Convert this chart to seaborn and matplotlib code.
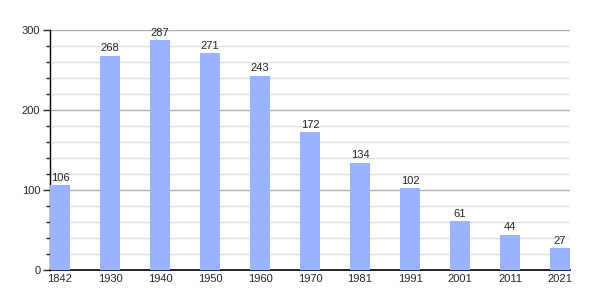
import matplotlib
matplotlib.use("Agg")
import matplotlib.pyplot as plt
import seaborn as sns
import pandas as pd
from matplotlib.ticker import MultipleLocator

years = ["1842", "1930", "1940", "1950", "1960", "1970", "1981", "1991", "2001", "2011", "2021"]
population = [106, 268, 287, 271, 243, 172, 134, 102, 61, 44, 27]

df = pd.DataFrame({"year": years, "pop": population})

sns.set_style("white")
plt.rcParams["font.family"] = ["Liberation Sans", "DejaVu Sans"]

fig = plt.figure(figsize=(6, 3), dpi=100)
ax = fig.add_axes([50/600, 30/300, 520/600, 240/300])

sns.barplot(data=df, x="year", y="pop", color="#99b3ff", saturation=1, width=0.4,
            linewidth=0, edgecolor="none", ax=ax, zorder=3)

ax.set_xlim(-0.2, 10.2)
ax.set_ylim(0, 300)
ax.yaxis.set_major_locator(MultipleLocator(100))
ax.yaxis.set_minor_locator(MultipleLocator(20))
ax.grid(which="major", axis="y", color="#b0b0b0", linewidth=1, zorder=0)
ax.grid(which="minor", axis="y", color="#e0e0e0", linewidth=1, zorder=0)
ax.set_axisbelow(True)

for s in ["top", "right"]:
    ax.spines[s].set_visible(False)
ax.spines["left"].set_color("black")
ax.spines["bottom"].set_color("black")
ax.spines["left"].set_linewidth(1)
ax.spines["bottom"].set_linewidth(1.2)

ax.tick_params(axis="y", which="major", length=5, width=1, direction="out", labelsize=8, pad=2, left=True)
ax.tick_params(axis="y", which="minor", length=3, width=1, direction="out", left=True)
ax.tick_params(axis="x", length=0, labelsize=8, pad=3)
ax.set_xlabel("")
ax.set_ylabel("")

for i, v in enumerate(population):
    ax.text(i, v + 3, str(v), ha="center", va="bottom", fontsize=8, zorder=4)

fig.savefig("out.png", dpi=100)
